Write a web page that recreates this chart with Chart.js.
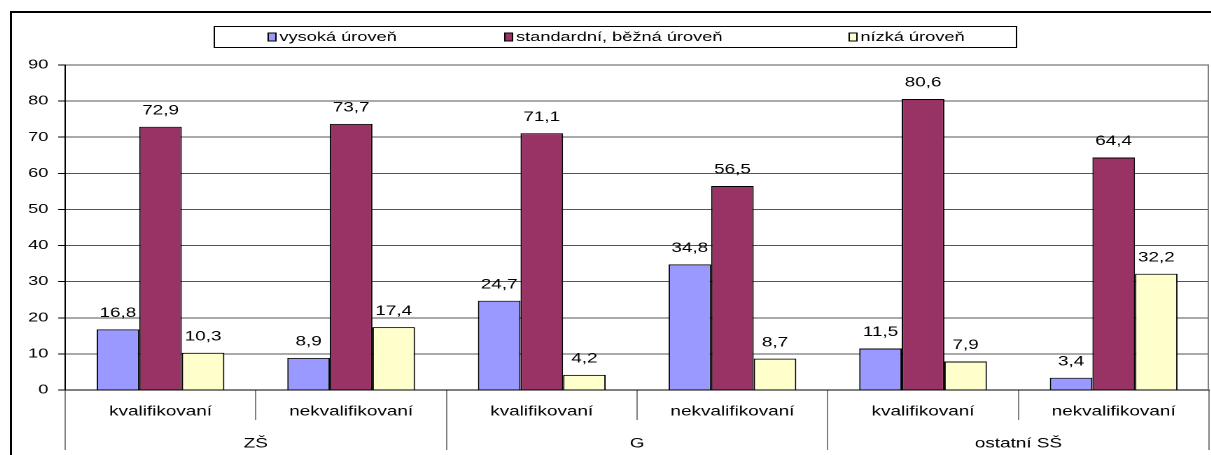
<!DOCTYPE html>
<html>
<head>
<meta charset="utf-8">
<script src="https://cdn.jsdelivr.net/npm/chart.js@4.4.0/dist/chart.umd.min.js"></script>
<style>
  html, body { margin: 0; padding: 0; background: #fff; overflow: hidden; }
  #frame { position: absolute; left: 10px; top: 11px; width: 1300px; height: 500px;
           border-top: 2px solid #000; border-left: 2px solid #000; }
  /* the original picture is stretched sideways, so the chart is drawn narrow and scaled */
  #wrap { position: absolute; left: 12px; top: 13px; width: 856px; height: 442px;
          transform: scaleX(1.4); transform-origin: 0 0; }
</style>
</head>
<body>
<div id="frame"></div>
<div id="wrap"><canvas id="chart" width="856" height="442"></canvas></div>
<script>
// data
const categories = ['kvalifikovaní', 'nekvalifikovaní', 'kvalifikovaní', 'nekvalifikovaní', 'kvalifikovaní', 'nekvalifikovaní'];
const groups = ['ZŠ', 'G', 'ostatní SŠ'];
const seriesNames = ['vysoká úroveň', 'standardní, běžná úroveň', 'nízká úroveň'];
const vysoka = [16.8, 8.9, 24.7, 34.8, 11.5, 3.4];
const standardni = [72.9, 73.7, 71.1, 56.5, 80.6, 64.4];
const nizka = [10.3, 17.4, 4.2, 8.7, 7.9, 32.2];
const yMin = 0, yMax = 90, yStep = 10;

const colors = ['#9999FF', '#993366', '#FFFFCC'];
const font = 'Liberation Sans, Arial, sans-serif';

const fmt = v => v.toFixed(1).replace('.', ',');

// hodnoty nad sloupci
const valueLabels = {
    id: 'valueLabels',
    afterDatasetsDraw(chart) {
        const ctx = chart.ctx;
        ctx.save();
        ctx.font = '13.5px ' + font;
        ctx.fillStyle = '#000';
        ctx.textAlign = 'center';
        ctx.textBaseline = 'middle';
        chart.data.datasets.forEach((ds, i) => {
            chart.getDatasetMeta(i).data.forEach((bar, j) => {
                ctx.fillText(fmt(ds.data[j]), bar.x, bar.y - 16);
            });
        });
        ctx.restore();
    }
};

// prava hrana plochy grafu + legenda v ramecku
const frameAndLegend = {
    id: 'frameAndLegend',
    afterDraw(chart) {
        const ctx = chart.ctx;
        const a = chart.chartArea;
        ctx.save();
        ctx.strokeStyle = '#808080';
        ctx.lineWidth = 1;
        ctx.beginPath();
        ctx.moveTo(a.right - 0.5, a.top);
        ctx.lineTo(a.right - 0.5, a.bottom);
        ctx.stroke();

        // legenda
        ctx.strokeStyle = '#000';
        ctx.strokeRect(144.5, 13.5, 573, 21);
        const xs = [183, 352, 598];
        ctx.font = '13px ' + font;
        ctx.textBaseline = 'middle';
        ctx.textAlign = 'left';
        chart.data.datasets.forEach((ds, i) => {
            ctx.fillStyle = ds.backgroundColor;
            ctx.fillRect(xs[i], 20, 5.5, 8);
            ctx.strokeStyle = '#000';
            ctx.strokeRect(xs[i], 20, 5.5, 8);
            ctx.fillStyle = '#000';
            ctx.fillText(ds.label, xs[i] + 8, 24.5);
        });
        ctx.restore();
    }
};

const data = {
    labels: categories,
    datasets: [
        { label: seriesNames[0], data: vysoka, backgroundColor: colors[0] },
        { label: seriesNames[1], data: standardni, backgroundColor: colors[1] },
        { label: seriesNames[2], data: nizka, backgroundColor: colors[2] }
    ].map(d => Object.assign(d, { borderColor: '#000', borderWidth: 1, categoryPercentage: 0.67, barPercentage: 1 }))
};

const config = {
    type: 'bar',
    data: data,
    options: {
        responsive: false,
        animation: false,
        devicePixelRatio: 2,
        layout: { padding: { top: 52, right: 1, left: 0, bottom: 0 } },
        plugins: {
            legend: { display: false },
            tooltip: { enabled: false }
        },
        scales: {
            x: {
                type: 'category',
                position: 'bottom',
                offset: true,
                grid: { offset: true, drawOnChartArea: false, drawTicks: true, tickLength: 30, color: '#808080' },
                border: { display: true, color: '#000' },
                ticks: { color: '#000', font: { family: font, size: 13.5 }, padding: -16.5, maxRotation: 0, autoSkip: false },
                afterFit: s => { s.height = 30; }
            },
            x2: {
                type: 'category',
                position: 'bottom',
                labels: groups,
                offset: true,
                grid: { offset: true, drawOnChartArea: false, drawTicks: true, tickLength: 30, color: '#808080' },
                border: { display: false },
                ticks: { color: '#000', font: { family: font, size: 13.5 }, padding: -14.5, maxRotation: 0 },
                afterFit: s => { s.height = 35; }
            },
            y: {
                min: yMin,
                max: yMax,
                ticks: { stepSize: yStep, color: '#000', font: { family: font, size: 13 }, padding: 7 },
                grid: { color: '#555', tickLength: 5, tickColor: '#000' },
                border: { display: true, color: '#000' },
                afterFit: s => { s.width = 38; }
            }
        }
    },
    plugins: [valueLabels, frameAndLegend]
};

const chart = new Chart(document.getElementById('chart'), config);
</script>
</body>
</html>
